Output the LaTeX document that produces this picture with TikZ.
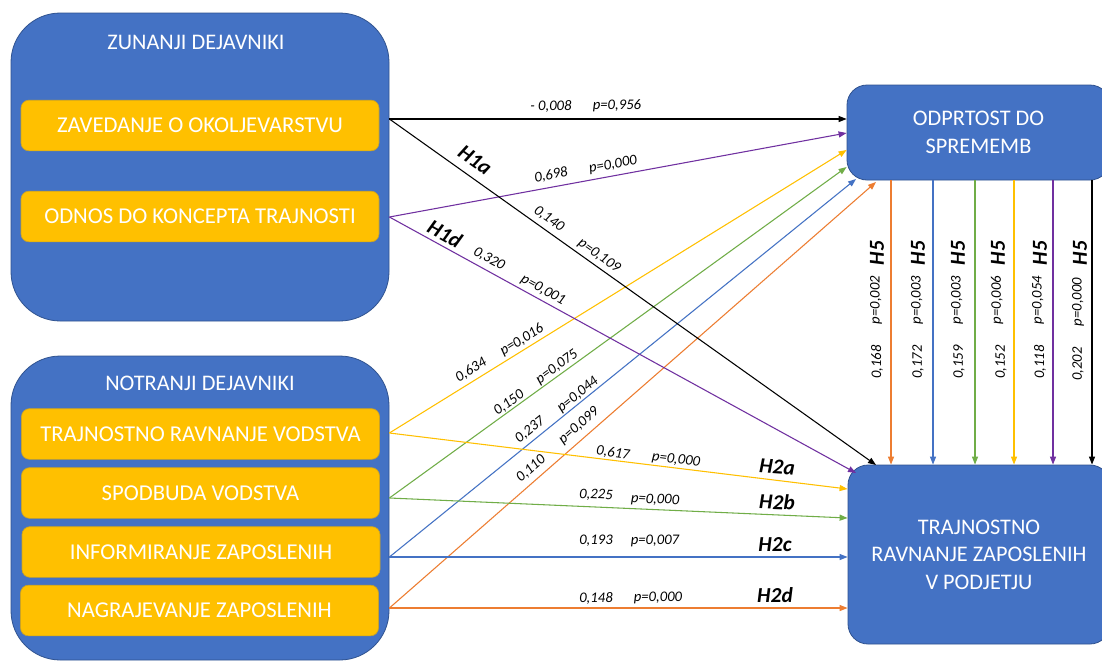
\documentclass[tikz,border=0pt]{standalone}
\usepackage{fontspec}
\setmainfont{Carlito}
\usetikzlibrary{arrows.meta,calc}
\definecolor{boxblue}{HTML}{4472C4}
\definecolor{boxedge}{HTML}{2F528F}
\definecolor{gold}{HTML}{FFC000}
\definecolor{goldedge}{HTML}{C9A227}
\definecolor{lorange}{HTML}{ED7D31}
\definecolor{lblue}{HTML}{4472C4}
\definecolor{lgreen}{HTML}{70AD47}
\definecolor{lyellow}{HTML}{FFC000}
\definecolor{lpurple}{HTML}{7030A0}
\tikzset{
 group/.style={draw=boxedge, line width=0.6pt, fill=boxblue, rounded corners=37pt, inner sep=0pt, minimum width=283.5pt},
 factor/.style={draw=goldedge, line width=0.5pt, fill=gold, rounded corners=6pt, minimum width=268.5pt, minimum height=38pt, text=white, font=\fontsize{17}{20}\selectfont, inner sep=0pt},
 target/.style={draw=boxedge, line width=0.6pt, fill=boxblue, rounded corners=15pt, text=white, font=\fontsize{16.7}{20.6}\selectfont, align=center, inner sep=0pt},
 grouptitle/.style={text=white, font=\fontsize{16.7}{20}\selectfont, inner sep=0pt},
 pathline/.style={line width=0.8pt, -{Triangle[length=6pt,width=4.5pt]}},
 coef/.style={font=\fontsize{11}{13}\selectfont\itshape, inner sep=0pt},
 hyp/.style={font=\fontsize{16}{18}\selectfont\bfseries\itshape, inner sep=0pt},
}
\begin{document}
\begin{tikzpicture}[x=0.75pt,y=-0.75pt]
\useasboundingbox (0,0) rectangle (1102,661);
\clip (0,0) rectangle (1102,661);
\fill[white] (0,0) rectangle (1102,661);

% left groups
\node[group, minimum height=231pt] (zun) at (200,167) {};
\node[grouptitle] (zunt) at (196,42) {ZUNANJI DEJAVNIKI};
\node[factor] (zav) at (200,125.5) {ZAVEDANJE O OKOLJEVARSTVU};
\node[factor] (odn) at (200,216.5) {ODNOS DO KONCEPTA TRAJNOSTI};

\node[group, minimum height=228pt] (not) at (200,508) {};
\node[grouptitle] (nott) at (200,383) {NOTRANJI DEJAVNIKI};
\node[factor] (trv) at (200.5,434) {TRAJNOSTNO RAVNANJE VODSTVA};
\node[factor] (spv) at (200.5,493) {SPODBUDA VODSTVA};
\node[factor] (inf) at (201,552) {INFORMIRANJE ZAPOSLENIH};
\node[factor] (nag) at (199.5,610.5) {NAGRAJEVANJE ZAPOSLENIH};

% right targets
\node[target, minimum width=197.25pt, minimum height=71.25pt] (odp) at (978.5,132.5) {ODPRTOST DO\\SPREMEMB};
\node[target, minimum width=196.5pt, minimum height=134.25pt] (trz) at (979,554.5) {TRAJNOSTNO\\RAVNANJE ZAPOSLENIH\\V PODJETJU};

% start points on the group edges
\coordinate (a1) at (zun.east |- 0,119);
\coordinate (a2) at (zun.east |- 0,217);
\coordinate (b1) at (not.east |- 0,433);
\coordinate (b2) at (not.east |- 0,498);
\coordinate (b3) at (not.east |- 0,557);
\coordinate (b4) at (not.east |- 0,608);
% end points on the targets
\coordinate (tP) at (odp.west |- 0,133);
\coordinate (tY) at (odp.west |- 0,150);
\coordinate (tG) at (odp.west |- 0,167);
\coordinate (tBl) at (856,179);
\coordinate (tO) at (876,182);
\coordinate (uB) at (876,465);
\coordinate (uP) at (856,473);
\coordinate (uY) at (trz.west |- 0,489);
\coordinate (uG) at (trz.west |- 0,518);

% paths to ODPRTOST
\draw[pathline, black] (a1) -- (odp.west |- a1);
\draw[pathline, lpurple] (a2) -- (tP);
\draw[pathline, lyellow] (b1) -- (tY);
\draw[pathline, lgreen] (b2) -- (tG);
\draw[pathline, lblue] (b3) -- (tBl);
\draw[pathline, lorange] (b4) -- (tO);
% paths to TRAJNOSTNO RAVNANJE ZAPOSLENIH
\draw[pathline, black] (a1) -- (uB);
\draw[pathline, lpurple] (a2) -- (uP);
\draw[pathline, lyellow] (b1) -- (uY);
\draw[pathline, lgreen] (b2) -- (uG);
\draw[pathline, lblue] (b3) -- (trz.west |- b3);
\draw[pathline, lorange] (b4) -- (trz.west |- b4);

% H5 vertical paths
\coordinate (v1) at (891,0);
\coordinate (v2) at (933,0);
\coordinate (v3) at (975,0);
\coordinate (v4) at (1014,0);
\coordinate (v5) at (1053,0);
\coordinate (v6) at (1092,0);
\draw[pathline, lorange] (odp.south -| v1) -- (trz.north -| v1);
\draw[pathline, lblue] (odp.south -| v2) -- (trz.north -| v2);
\draw[pathline, lgreen] (odp.south -| v3) -- (trz.north -| v3);
\draw[pathline, lyellow] (odp.south -| v4) -- (trz.north -| v4);
\draw[pathline, lpurple] (odp.south -| v5) -- (trz.north -| v5);
\draw[pathline, black] (odp.south -| v6) -- (trz.north -| v6);

% labels: external factors
\node[coef] (c1) at (551,106) {- 0,008};
\node[coef] (p1) at (617,106) {p=0,956};
\node[hyp, rotate=-35.3] (h1a) at (475,160) {H1a};
\node[coef, rotate=-35.3] (c2) at (549,219) {0,140};
\node[coef, rotate=-35.3] (p2) at (599,256) {p=0,109};
\node[coef, rotate=10.4] (c3) at (551,175) {0,698};
\node[coef, rotate=10.4] (p3) at (613,165) {p=0,000};
\node[hyp, rotate=-28.8] (h1d) at (445,234) {H1d};
\node[coef, rotate=-28.8] (c4) at (489,259) {0,320};
\node[coef, rotate=-28.8] (p4) at (543,290) {p=0,001};

% labels: internal factors to ODPRTOST
\node[coef, rotate=31.7] (c5) at (471,370) {0,634};
\node[coef, rotate=31.7] (p5) at (522,340) {p=0,016};
\node[coef, rotate=35.9] (c6) at (509,403) {0,150};
\node[coef, rotate=35.9] (p6) at (557,367) {p=0,075};
\node[coef, rotate=38.9] (c7) at (530,430) {0,237};
\node[coef, rotate=38.9] (p7) at (578,395) {p=0,044};
\node[coef, rotate=41.2] (c8) at (531,469) {0,110};
\node[coef, rotate=41.2] (p8) at (579,426) {p=0,099};

% labels: internal factors to TRZ
\node[coef, rotate=-7.1] (c9) at (613,453) {0,617};
\node[coef, rotate=-7.1] (p9) at (676,460) {p=0,000};
\node[hyp, rotate=-4] (h2a) at (777,467) {H2a};
\node[coef, rotate=-2.6] (c10) at (596,495) {0,225};
\node[coef, rotate=-2.6] (p10) at (655,500) {p=0,000};
\node[hyp, rotate=-2] (h2b) at (777,502) {H2b};
\node[coef] (c11) at (596,541) {0,193};
\node[coef] (p11) at (655,541) {p=0,007};
\node[hyp] (h2c) at (775,545) {H2c};
\node[coef] (c12) at (596,598) {0,148};
\node[coef] (p12) at (658,598) {p=0,000};
\node[hyp] (h2d) at (775,595) {H2d};

% H5 labels
\node[coef, rotate=90] (c13) at (877,362) {0,168};
\node[coef, rotate=90] (p13) at (876,300) {p=0,002};
\node[hyp, rotate=90] (h5a) at (877,253) {H5};
\node[coef, rotate=90] (c14) at (918,362) {0,172};
\node[coef, rotate=90] (p14) at (917,300) {p=0,003};
\node[hyp, rotate=90] (h5b) at (918,253) {H5};
\node[coef, rotate=90] (c15) at (959,362) {0,159};
\node[coef, rotate=90] (p15) at (957,300) {p=0,003};
\node[hyp, rotate=90] (h5c) at (958,253) {H5};
\node[coef, rotate=90] (c16) at (1001,362) {0,152};
\node[coef, rotate=90] (p16) at (997,300) {p=0,006};
\node[hyp, rotate=90] (h5d) at (998,253) {H5};
\node[coef, rotate=90] (c17) at (1040,362) {0,118};
\node[coef, rotate=90] (p17) at (1038,300) {p=0,054};
\node[hyp, rotate=90] (h5e) at (1040,253) {H5};
\node[coef, rotate=90] (c18) at (1078,364) {0,202};
\node[coef, rotate=90] (p18) at (1078,302) {p=0,000};
\node[hyp, rotate=90] (h5f) at (1080,253) {H5};
\end{tikzpicture}
\end{document}
